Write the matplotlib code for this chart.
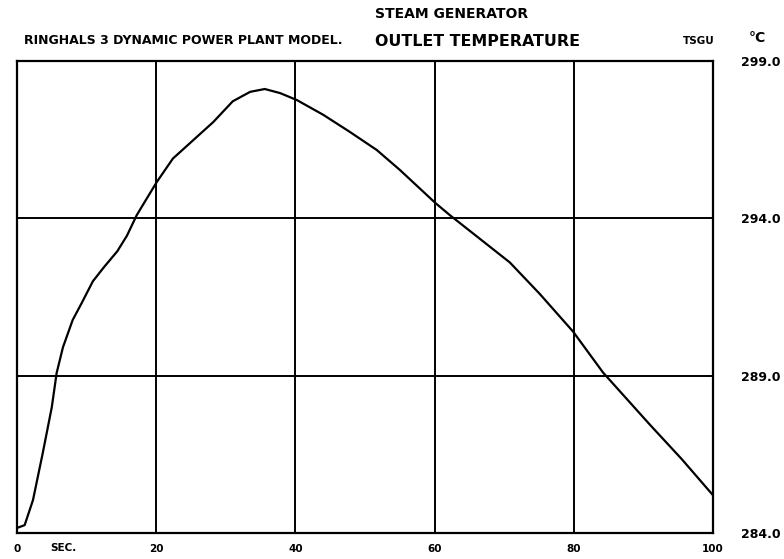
import numpy as np
import matplotlib
matplotlib.use("Agg")
import matplotlib.pyplot as plt

# steam generator outlet temperature
time_s = [0, 1.1, 2.3, 3.7, 5.0, 5.7, 6.6, 8.0, 9.3, 10.9, 12.5, 14.4, 15.8,
          17.2, 18.7, 20.1, 22.4, 24.9, 28.2, 31.0, 33.5, 35.6, 37.8, 40.2,
          44.0, 47.8, 51.7, 55.0, 60.1, 62.2, 66.5, 70.8, 75.1, 79.9, 84.2,
          90.9, 95.5, 100]
temp_c = [284.16, 284.25, 285.05, 286.54, 288.0, 289.09, 289.9, 290.77, 291.31,
          292.0, 292.45, 292.95, 293.45, 294.1, 294.65, 295.16, 295.9, 296.4,
          297.06, 297.72, 298.02, 298.11, 297.98, 297.76, 297.29, 296.75, 296.17,
          295.54, 294.49, 294.1, 293.35, 292.6, 291.6, 290.4, 289.1, 287.45,
          286.35, 285.2]

x_ticks = [0, 20, 40, 60, 80, 100]
x_labels = ["0", "20", "40", "60", "80", "100"]
y_ticks = [284, 289, 294, 299]
y_labels = ["284.0", "289.0", "294.0", "299.0"]

fig = plt.figure(figsize=(7.84, 5.59), dpi=100)
ax = fig.add_axes([17 / 784, 1 - 533 / 559, 696 / 784, 472 / 559])

ax.plot(time_s, temp_c, color="black", linewidth=1.6)

ax.set_xlim(0, 100)
ax.set_ylim(284, 299)
ax.set_xticks(x_ticks)
ax.set_xticklabels(x_labels, fontsize=7.5, fontweight="bold")
ax.set_yticks(y_ticks)
ax.set_yticklabels(y_labels, fontsize=9, fontweight="bold")
ax.yaxis.tick_right()
ax.tick_params(axis="both", length=0)
ax.tick_params(axis="x", pad=8)
ax.tick_params(axis="y", pad=20)
ax.grid(True, color="black", linewidth=1.4)
for sp in ax.spines.values():
    sp.set_linewidth(1.6)
    sp.set_color("black")

# header texts
fig.text(50 / 784, 1 - 548 / 559, "SEC.", fontsize=7.5, fontweight="bold",
         ha="left", va="center")
fig.text(375 / 784, 1 - 14 / 559, "STEAM GENERATOR", fontsize=10,
         fontweight="bold", ha="left", va="center")
fig.text(24 / 784, 1 - 41 / 559, "RINGHALS 3 DYNAMIC POWER PLANT MODEL.",
         fontsize=9, fontweight="bold", ha="left", va="center")
fig.text(375 / 784, 1 - 41 / 559, "OUTLET TEMPERATURE", fontsize=11.4,
         fontweight="bold", ha="left", va="center")
fig.text(699 / 784, 1 - 41 / 559, "TSGU", fontsize=7.5, fontweight="bold",
         ha="center", va="center")
fig.text(757 / 784, 1 - 38 / 559, "°C", fontsize=10, fontweight="bold",
         ha="center", va="center")

fig.savefig("out.png", dpi=100)
